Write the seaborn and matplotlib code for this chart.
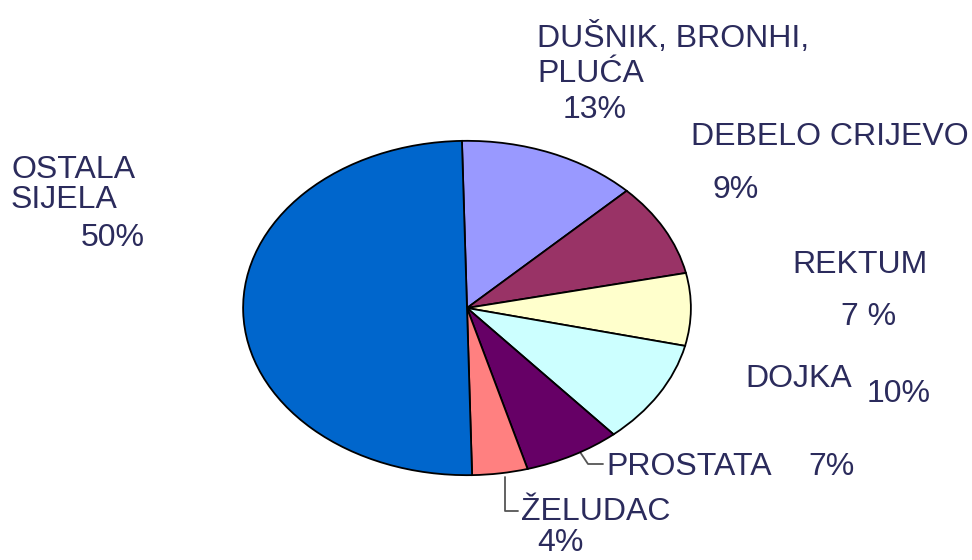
import seaborn as sns
import matplotlib.pyplot as plt

# slices, clockwise from 12 o'clock
organs = ["DUŠNIK, BRONHI,\nPLUĆA", "DEBELO CRIJEVO", "REKTUM", "DOJKA",
          "PROSTATA", "ŽELUDAC", "OSTALA\nSIJELA"]
shares = [13, 9, 7, 10, 7, 4, 50]
pct_text = ["13%", "9%", "7 %", "10%", "7%", "4%", "50%"]
colors = ["#9999FF", "#993366", "#FFFFCC", "#CCFFFF", "#660066", "#FF8080", "#0066CC"]

sns.set_theme(style="white")
plt.rcParams['font.family'] = ['Liberation Sans', 'DejaVu Sans']

W, H = 972, 560
fig = plt.figure(figsize=(W / 100, H / 100), dpi=100)
fig.patch.set_facecolor("white")

# overlay in pixel coordinates for labels and leader lines
bg = fig.add_axes([0, 0, 1, 1])
bg.set_xlim(0, W)
bg.set_ylim(H, 0)
bg.axis("off")

# pie axes spans the ellipse box so the pie gets stretched like the original
left, right, top, bottom = 242, 692, 140, 476
pie_ax = fig.add_axes([left / W, 1 - bottom / H, (right - left) / W, (bottom - top) / H])
pie_ax.pie(shares, colors=colors, startangle=91.3, counterclock=False,
           wedgeprops=dict(edgecolor="black", linewidth=1.3))
pie_ax.set_aspect("auto")
pie_ax.set_xlim(-1.005, 1.005)
pie_ax.set_ylim(-1.005, 1.005)
pie_ax.axis("off")

txt = dict(color="#2b2b5c", fontsize=23, va="baseline", ha="left")

# label name positions (left x, baseline of first line) and percentage positions
name_pos = [(537, 47), (691, 145), (792, 273), (745, 387), (606, 475), (521, 520), (11, 178)]
pct_pos = [(563, 118), (712, 198), (841, 325), (867, 402), (808, 475), (537, 551), (81, 246)]

for name, pct, (nx, ny), (px, py) in zip(organs, pct_text, name_pos, pct_pos):
    gap = 30 if "SIJELA" in name else 35
    for i, line in enumerate(name.split("\n")):
        bg.text(nx, ny + i * gap, line, **txt)
    bg.text(px, py, pct, **txt)

# leader lines
lead = dict(color="#555555", linewidth=1.3)
bg.plot([580, 588, 603], [452, 464, 464], **lead)
bg.plot([505, 505, 518], [477, 511, 511], **lead)

fig.savefig("out.png", dpi=100, facecolor="white")
